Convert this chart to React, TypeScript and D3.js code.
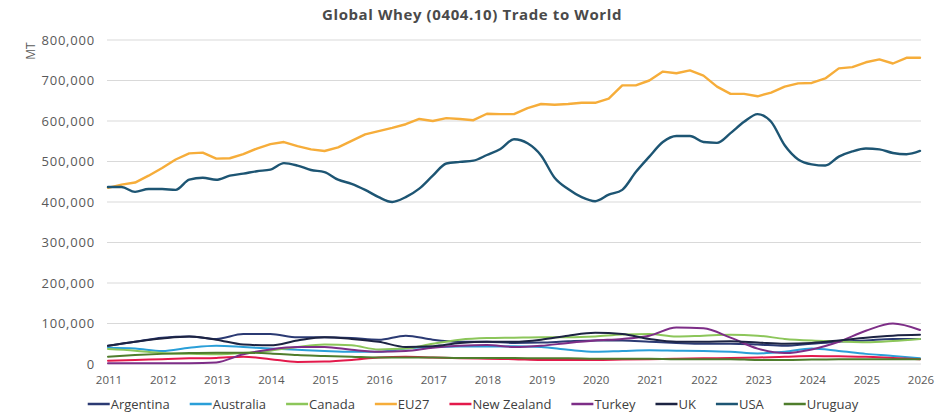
import React, { useEffect, useRef } from "react";
import * as d3 from "d3";

const TITLE = "Global Whey (0404.10) Trade to World";
const Y_LABEL = "MT";
const YEAR_TICKS = [2011, 2012, 2013, 2014, 2015, 2016, 2017, 2018, 2019, 2020, 2021, 2022, 2023, 2024, 2025, 2026];
const Y_TICKS = [0, 100000, 200000, 300000, 400000, 500000, 600000, 700000, 800000];

// quarterly time grid (2011.00 .. 2026.00) for the two large series
const QUARTERS = d3.range(0, 61).map((i) => 2011 + i / 4);
// half-yearly time grid for the small series
const HALVES = d3.range(0, 31).map((i) => 2011 + i / 2);

// values in thousand MT
const EU27 = [435, 443, 448, 465, 484, 505, 520, 522, 507, 508, 518, 532, 543, 548, 538, 530, 526, 535, 551, 567, 575, 583, 592, 605, 600, 607, 605, 602, 618, 617, 617, 632, 642, 640, 642, 645, 645, 655, 688, 688, 700, 722, 718, 725, 712, 685, 667, 667, 661, 670, 685, 693, 694, 705, 730, 733, 745, 752, 742, 756, 756];
const USA = [437, 437, 425, 432, 432, 430, 455, 460, 455, 465, 470, 476, 480, 496, 490, 479, 474, 455, 445, 430, 412, 400, 412, 433, 465, 495, 499, 502, 516, 531, 555, 545, 515, 460, 432, 412, 402, 418, 430, 474, 512, 548, 563, 563, 548, 546, 570, 598, 617, 598, 540, 505, 493, 490, 512, 525, 532, 530, 521, 518, 526];

const ARGENTINA = [45, 55, 65, 68, 62, 74, 74, 66, 66, 64, 60, 70, 60, 55, 55, 52, 53, 56, 58, 58, 55, 52, 50, 50, 48, 45, 50, 55, 58, 62, 62];
const AUSTRALIA = [40, 38, 32, 40, 45, 42, 38, 35, 32, 30, 30, 38, 42, 43, 43, 44, 42, 35, 30, 32, 34, 33, 32, 30, 26, 30, 38, 32, 25, 20, 14];
const CANADA = [37, 33, 27, 25, 24, 27, 33, 42, 48, 46, 36, 38, 50, 60, 64, 65, 66, 66, 68, 73, 74, 68, 70, 72, 70, 62, 58, 56, 54, 57, 62];
const NEW_ZEALAND = [8, 10, 12, 14, 15, 18, 12, 5, 6, 10, 16, 18, 16, 14, 13, 12, 10, 10, 10, 11, 12, 13, 14, 15, 16, 18, 20, 19, 18, 15, 12];
const TURKEY = [2, 2, 2, 2, 4, 24, 36, 42, 42, 35, 30, 32, 40, 45, 47, 42, 45, 52, 58, 62, 70, 90, 88, 65, 38, 27, 36, 55, 82, 100, 84];
const UK = [45, 55, 63, 68, 60, 48, 46, 58, 66, 62, 55, 42, 44, 52, 55, 55, 60, 70, 77, 74, 62, 55, 55, 56, 53, 50, 52, 58, 65, 70, 72];
const URUGUAY = [18, 22, 25, 27, 28, 28, 26, 22, 20, 18, 16, 16, 16, 15, 15, 15, 14, 14, 13, 13, 13, 12, 12, 12, 10, 10, 11, 12, 12, 12, 12];

const SERIES_NAMES = ["Argentina", "Australia", "Canada", "EU27", "New Zealand", "Turkey", "UK", "USA", "Uruguay"];
const SERIES_VALUES = [ARGENTINA, AUSTRALIA, CANADA, EU27, NEW_ZEALAND, TURKEY, UK, USA, URUGUAY];
const SERIES_COLORS = ["#2b3a73", "#2a9fd8", "#8cc65a", "#f6ad3a", "#e3194b", "#7d2e87", "#1c2342", "#1d5573", "#4f7d2c"];

const W = 950;
const H = 413;
const FONT = "'Open Sans', 'DejaVu Sans', sans-serif";

export default function App() {
  const ref = useRef<SVGSVGElement | null>(null);

  useEffect(() => {
    const svg = d3.select(ref.current);
    svg.selectAll("*").remove();

    const x = d3.scaleLinear().domain([2011, 2026]).range([108, 920]);
    const y = d3.scaleLinear().domain([0, 800000]).range([364, 40]);

    // title
    svg.append("text")
      .attr("x", 472).attr("y", 20)
      .attr("text-anchor", "middle")
      .attr("font-family", FONT).attr("font-weight", 700)
      .attr("font-size", 15).attr("letter-spacing", 0.6).attr("fill", "#4a4a4a")
      .text(TITLE);

    // gridlines
    svg.append("g").selectAll("line").data(Y_TICKS).join("line")
      .attr("x1", 107).attr("x2", 921)
      .attr("y1", (d) => y(d)).attr("y2", (d) => y(d))
      .attr("stroke", "#d9d9d9").attr("stroke-width", 1);

    // y axis labels
    const fmt = d3.format(",");
    svg.append("g").selectAll("text").data(Y_TICKS).join("text")
      .attr("x", 95).attr("y", (d) => y(d) + 4.5)
      .attr("text-anchor", "end")
      .attr("font-family", FONT).attr("font-size", 13).attr("letter-spacing", 0.8).attr("fill", "#595959")
      .text((d) => fmt(d));

    svg.append("text")
      .attr("transform", `translate(35,51) rotate(-90)`)
      .attr("text-anchor", "middle")
      .attr("font-family", FONT).attr("font-size", 12).attr("fill", "#595959")
      .text(Y_LABEL);

    // x axis labels
    svg.append("g").selectAll("text").data(YEAR_TICKS).join("text")
      .attr("x", (d) => x(d) + 1).attr("y", 384)
      .attr("text-anchor", "middle")
      .attr("font-family", FONT).attr("font-size", 11.5).attr("fill", "#595959")
      .text((d) => String(d));

    // series
    const g = svg.append("g");
    SERIES_NAMES.forEach((name, i) => {
      const vals = SERIES_VALUES[i];
      const big = vals.length === QUARTERS.length;
      const times = big ? QUARTERS : HALVES;
      const pts: [number, number][] = vals.map((v, k) => [times[k], v * 1000]);
      const line = d3.line<[number, number]>()
        .x((d) => x(d[0]))
        .y((d) => y(d[1]))
        .curve(name === "EU27" ? d3.curveLinear : d3.curveMonotoneX);
      g.append("path")
        .attr("d", line(pts) || "")
        .attr("fill", "none")
        .attr("stroke", SERIES_COLORS[i])
        .attr("stroke-width", big ? 2.4 : 2)
        .attr("stroke-linejoin", "round")
        .attr("stroke-linecap", "round");
    });

    // legend
    const legend = svg.append("g");
    const items: { g: any; w: number }[] = [];
    SERIES_NAMES.forEach((name, i) => {
      const ig = legend.append("g");
      ig.append("line")
        .attr("x1", 0).attr("x2", 22).attr("y1", 0).attr("y2", 0)
        .attr("stroke", SERIES_COLORS[i]).attr("stroke-width", 2.5);
      const t = ig.append("text")
        .attr("x", 23).attr("y", 4.5)
        .attr("font-family", FONT).attr("font-size", 13).attr("fill", "#404040")
        .text(name);
      const tw = (t.node() as SVGTextElement).getComputedTextLength();
      items.push({ g: ig, w: 23 + tw });
    });
    const gap = 20;
    const total = d3.sum(items, (d) => d.w) + gap * (items.length - 1);
    let cx = 473 - total / 2;
    items.forEach((it) => {
      it.g.attr("transform", `translate(${cx},404)`);
      cx += it.w + gap;
    });
  }, []);

  return (
    <svg
      ref={ref}
      width={W}
      height={H}
      style={{ position: "absolute", left: 0, top: 0, background: "#ffffff" }}
    />
  );
}
